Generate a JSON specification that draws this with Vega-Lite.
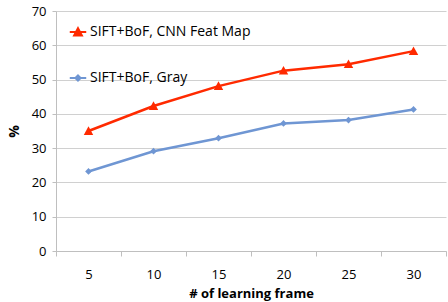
{
  "$schema": "https://vega.github.io/schema/vega-lite/v6.json",
  "width": 390,
  "height": 240,
  "autosize": "none",
  "padding": {"left": 56, "top": 11, "right": 2, "bottom": 51},
  "background": "white",
  "config": {
    "view": {"stroke": null},
    "font": "Open Sans",
    "axis": {"labelFont": "Open Sans", "titleFont": "Open Sans", "labelColor": "#000", "titleColor": "#000"}
  },
  "data": {
    "values": [
      {"frame": "5", "series": "SIFT+BoF, CNN Feat Map", "value": 35.0},
      {"frame": "10", "series": "SIFT+BoF, CNN Feat Map", "value": 42.3},
      {"frame": "15", "series": "SIFT+BoF, CNN Feat Map", "value": 48.1},
      {"frame": "20", "series": "SIFT+BoF, CNN Feat Map", "value": 52.6},
      {"frame": "25", "series": "SIFT+BoF, CNN Feat Map", "value": 54.5},
      {"frame": "30", "series": "SIFT+BoF, CNN Feat Map", "value": 58.3},
      {"frame": "5", "series": "SIFT+BoF, Gray", "value": 23.2},
      {"frame": "10", "series": "SIFT+BoF, Gray", "value": 29.1},
      {"frame": "15", "series": "SIFT+BoF, Gray", "value": 32.9},
      {"frame": "20", "series": "SIFT+BoF, Gray", "value": 37.2},
      {"frame": "25", "series": "SIFT+BoF, Gray", "value": 38.2},
      {"frame": "30", "series": "SIFT+BoF, Gray", "value": 41.3}
    ]
  },
  "encoding": {
    "x": {
      "field": "frame", "type": "ordinal", "sort": null,
      "scale": {"paddingInner": 0, "paddingOuter": 0},
      "axis": {
        "title": "# of learning frame", "titleFontSize": 13, "titleFontWeight": "bold", "titlePadding": 6,
        "labelAngle": 0, "labelFontSize": 13, "labelPadding": 12,
        "tickBand": "extent", "tickColor": "#bfbfbf", "tickSize": 5,
        "domainColor": "#bfbfbf", "grid": false
      }
    },
    "y": {
      "field": "value", "type": "quantitative",
      "scale": {"domain": [0, 70], "nice": false},
      "axis": {
        "title": "%", "titleFontSize": 14, "titleFontWeight": "bold", "titlePadding": 10,
        "values": [0, 10, 20, 30, 40, 50, 60, 70],
        "labelFontSize": 13, "labelPadding": 6,
        "tickColor": "#bfbfbf", "tickSize": 4,
        "domainColor": "#bfbfbf", "gridColor": "#d0d0d0"
      }
    },
    "color": {
      "field": "series", "type": "nominal",
      "scale": {"domain": ["SIFT+BoF, CNN Feat Map", "SIFT+BoF, Gray"], "range": ["#ff2a00", "#6f96d3"]},
      "legend": {
        "title": null, "orient": "none", "legendX": 12, "legendY": 11,
        "labelFont": "Open Sans", "labelFontSize": 14, "labelColor": "#000", "labelLimit": 0,
        "symbolSize": 300, "rowPadding": 28, "labelOffset": 2,
        "encode": {
          "symbols": {
            "update": {
              "shape": {"signal": "datum.value === 'SIFT+BoF, Gray' ? 'M-0.95,0H0.95M0,-0.3L0.3,0L0,0.3L-0.3,0Z' : 'M-0.95,0H0.95M0,-0.45L0.45,0.4L-0.45,0.4Z'"},
              "stroke": {"scale": "color", "field": "value"},
              "fill": {"scale": "color", "field": "value"},
              "strokeWidth": {"value": 2},
              "opacity": {"value": 1}
            }
          }
        }
      }
    }
  },
  "layer": [
    {"mark": {"type": "line", "strokeWidth": 2.5}},
    {
      "transform": [{"filter": "datum.series === 'SIFT+BoF, CNN Feat Map'"}],
      "mark": {"type": "point", "filled": true, "opacity": 1, "shape": "M0,-0.9L0.9,0.75L-0.9,0.75Z", "size": 110}
    },
    {
      "transform": [{"filter": "datum.series === 'SIFT+BoF, Gray'"}],
      "mark": {"type": "point", "filled": true, "opacity": 1, "shape": "diamond", "size": 45}
    }
  ]
}
